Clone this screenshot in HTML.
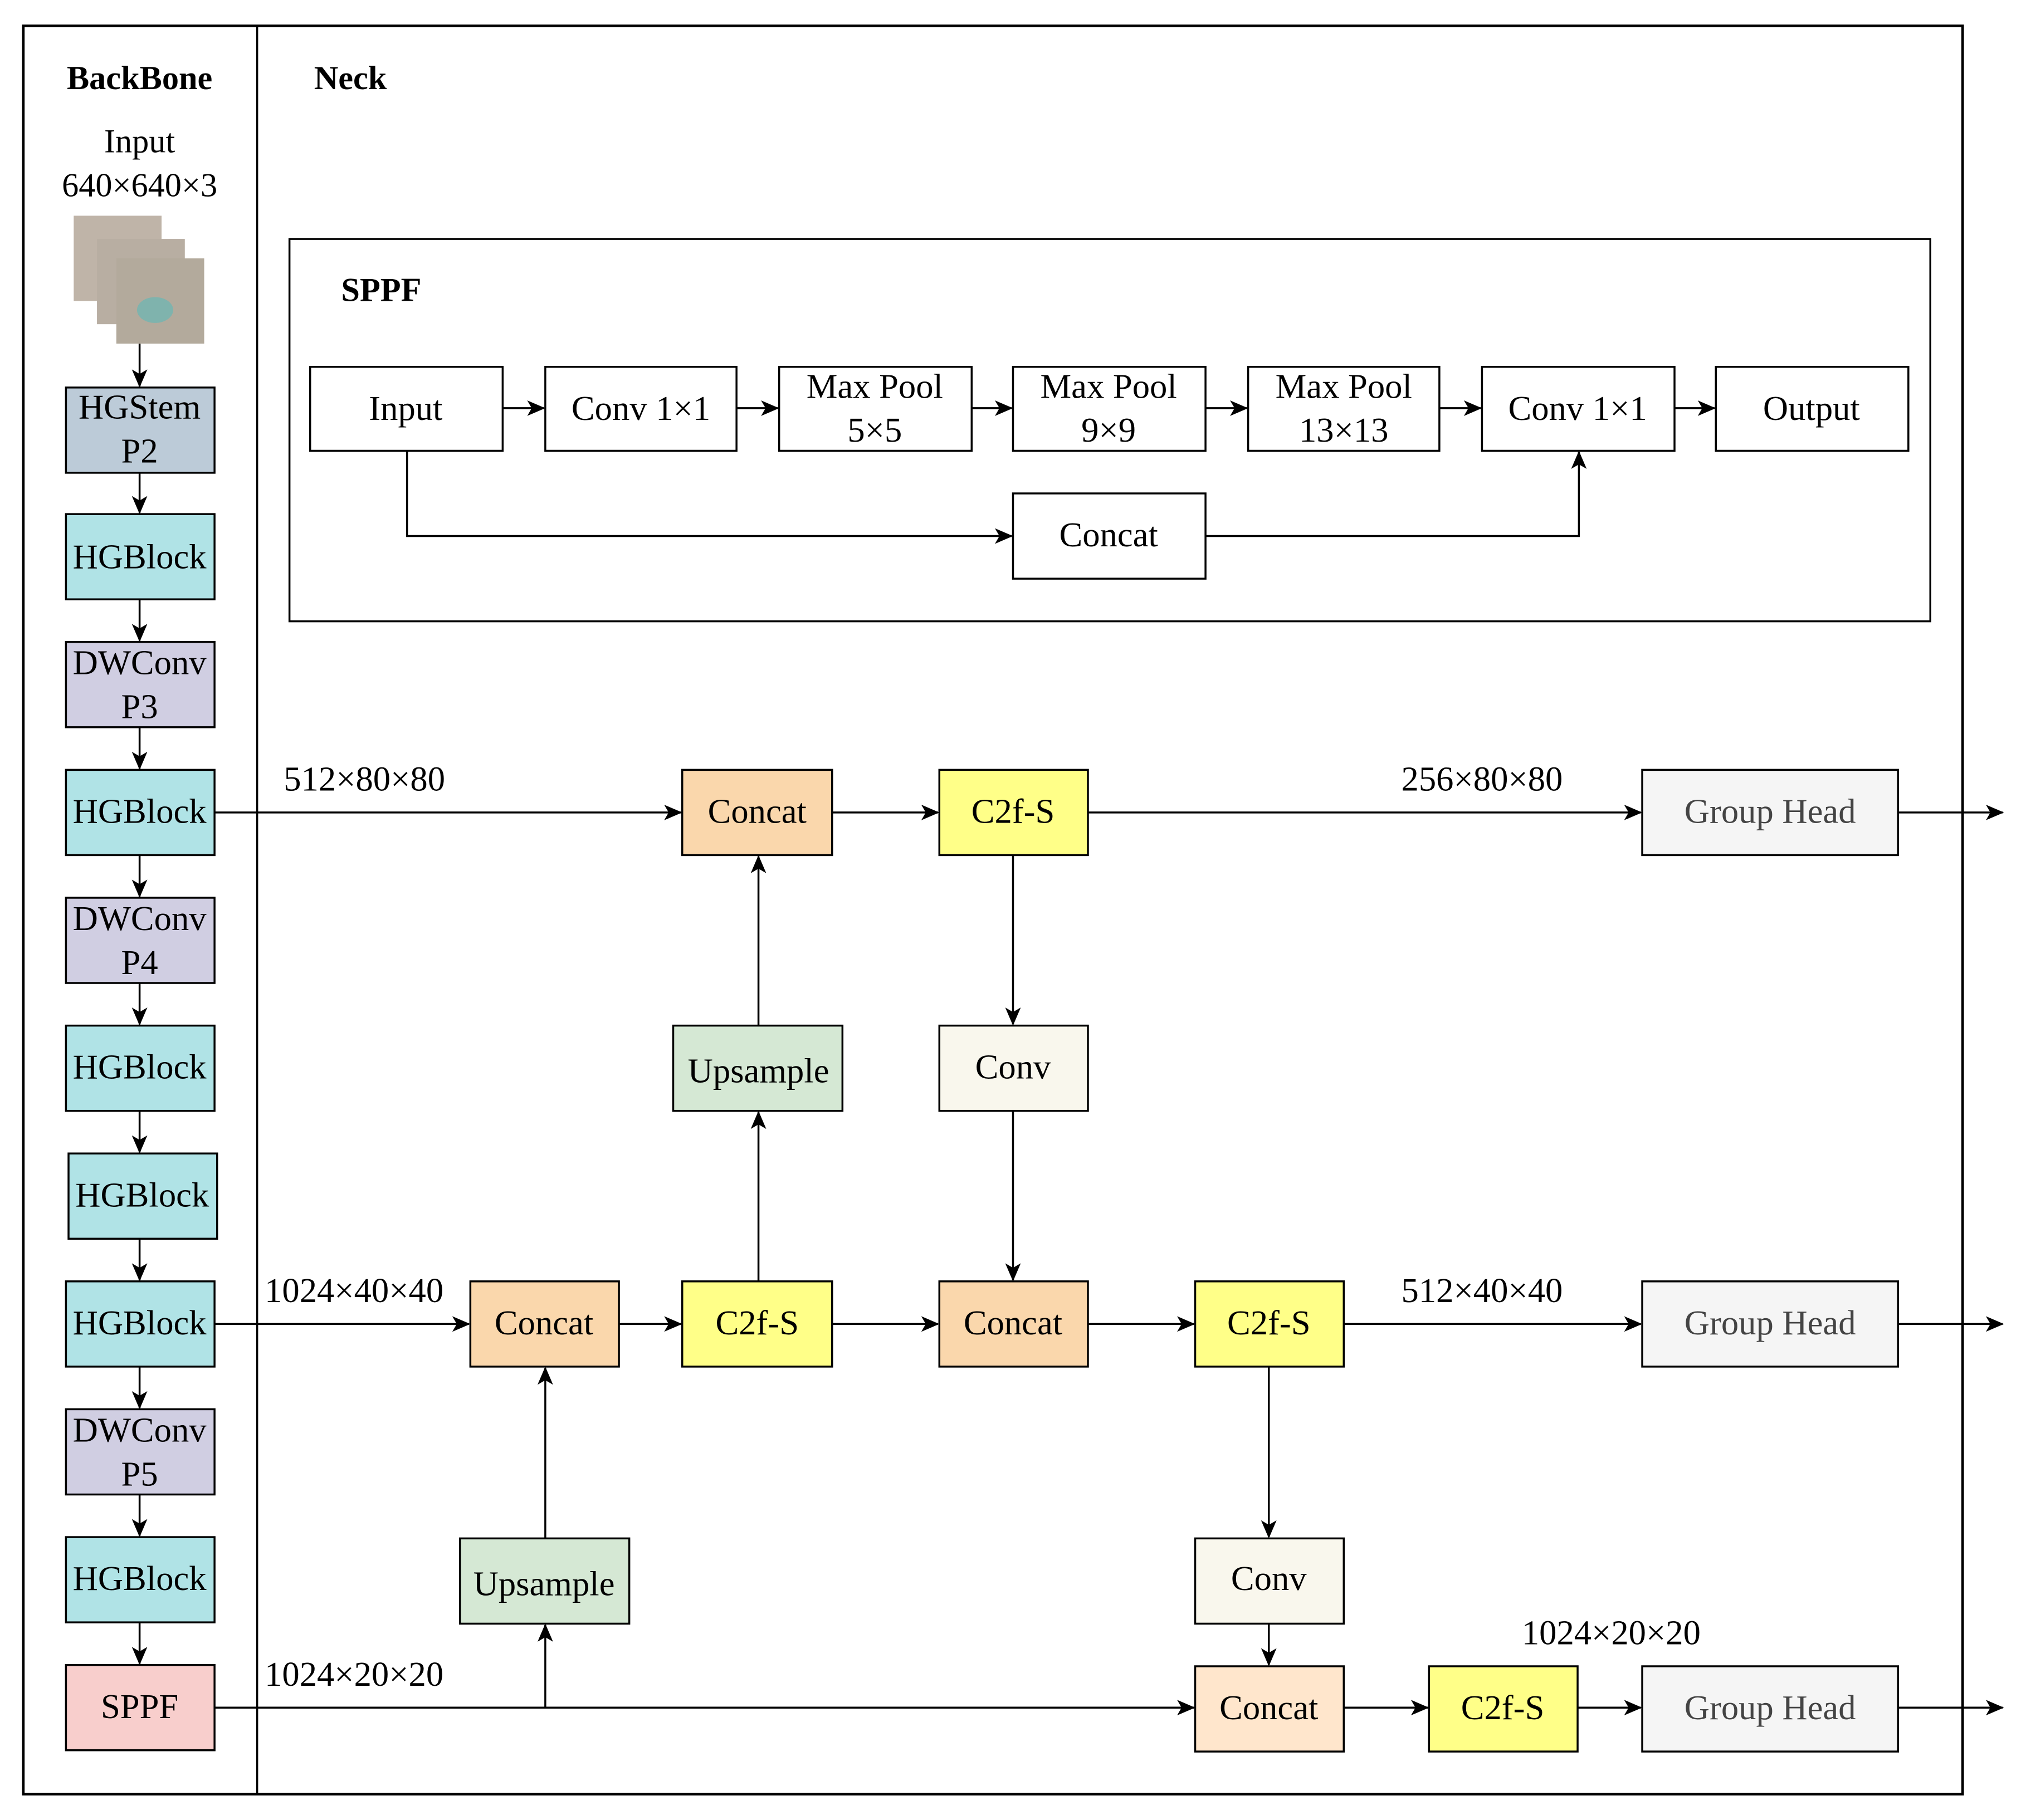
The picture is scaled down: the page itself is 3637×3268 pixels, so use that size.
<!DOCTYPE html>
<html><head><meta charset="utf-8"><style>html,body{margin:0;padding:0;background:#fff}svg{display:block}text{font-family:"Liberation Serif",serif}</style></head>
<body>
<svg width="3637" height="3268" viewBox="0 0 1568 1409" xmlns="http://www.w3.org/2000/svg" style="font-family:'Liberation Serif',serif">
<defs>
<marker id="a" markerWidth="14" markerHeight="12" refX="13" refY="6" orient="auto" markerUnits="userSpaceOnUse">
<path d="M0,0 L14,6 L0,12 L3.5,6 Z" fill="#000"/></marker>
</defs>
<rect width="1568" height="1409" fill="#fff"/>
<rect x="18" y="20" width="1501" height="1369" fill="none" stroke="#000" stroke-width="2"/>
<line x1="199" y1="20" x2="199" y2="1389" stroke="#000" stroke-width="1.5"/>
<g font-weight="bold" font-size="26"><text x="108" y="69" text-anchor="middle">BackBone</text><text x="243" y="69">Neck</text></g>
<g font-size="26" text-anchor="middle"><text x="108" y="118">Input</text><text x="108" y="152">640×640×3</text></g>
<rect x="57" y="167" width="68" height="66" fill="#bfb4a8"/>
<rect x="75" y="185" width="68" height="66" fill="#b8aea2"/>
<rect x="90" y="200" width="68" height="66" fill="#b3aa9c"/>
<ellipse cx="120" cy="240" rx="14" ry="10" fill="#7fb3ad"/>
<g stroke="#000" stroke-width="1.5" fill="none" marker-end="url(#a)">
<line x1="108" y1="266" x2="108" y2="299"/>
<line x1="108" y1="366" x2="108" y2="397"/>
<line x1="108" y1="464" x2="108" y2="496"/>
<line x1="108" y1="563" x2="108" y2="595"/>
<line x1="108" y1="662" x2="108" y2="694"/>
<line x1="108" y1="761" x2="108" y2="793"/>
<line x1="108" y1="860" x2="108" y2="892"/>
<line x1="108" y1="959" x2="108" y2="991"/>
<line x1="108" y1="1058" x2="108" y2="1090"/>
<line x1="108" y1="1157" x2="108" y2="1189"/>
<line x1="108" y1="1256" x2="108" y2="1288"/>
<line x1="389" y1="316" x2="421" y2="316"/>
<line x1="570" y1="316" x2="602" y2="316"/>
<line x1="752" y1="316" x2="783" y2="316"/>
<line x1="933" y1="316" x2="965" y2="316"/>
<line x1="1114" y1="316" x2="1146" y2="316"/>
<line x1="1296" y1="316" x2="1327" y2="316"/>
<polyline points="315,349 315,415 783,415"/>
<polyline points="933,415 1222,415 1222,350"/>
<line x1="166" y1="629" x2="527" y2="629"/>
<line x1="644" y1="629" x2="726" y2="629"/>
<line x1="842" y1="629" x2="1270" y2="629"/>
<line x1="1469" y1="629" x2="1550" y2="629"/>
<line x1="587" y1="794" x2="587" y2="663"/>
<line x1="587" y1="992" x2="587" y2="861"/>
<line x1="784" y1="662" x2="784" y2="793"/>
<line x1="784" y1="860" x2="784" y2="991"/>
<line x1="166" y1="1025" x2="363" y2="1025"/>
<line x1="479" y1="1025" x2="527" y2="1025"/>
<line x1="644" y1="1025" x2="726" y2="1025"/>
<line x1="842" y1="1025" x2="924" y2="1025"/>
<line x1="1040" y1="1025" x2="1270" y2="1025"/>
<line x1="1469" y1="1025" x2="1550" y2="1025"/>
<line x1="982" y1="1058" x2="982" y2="1190"/>
<line x1="982" y1="1257" x2="982" y2="1289"/>
<line x1="422" y1="1191" x2="422" y2="1059"/>
<line x1="422" y1="1322" x2="422" y2="1258"/>
<line x1="166" y1="1322" x2="924" y2="1322"/>
<line x1="1040" y1="1322" x2="1105" y2="1322"/>
<line x1="1221" y1="1322" x2="1270" y2="1322"/>
<line x1="1469" y1="1322" x2="1550" y2="1322"/>
</g>
<rect x="224" y="185" width="1270" height="296" fill="none" stroke="#000" stroke-width="1.5"/>
<text x="264" y="233" font-weight="bold" font-size="26">SPPF</text>
<g stroke="#000" stroke-width="1.5" fill="#fff">
<rect x="240" y="284" width="149" height="65"/>
<rect x="422" y="284" width="148" height="65"/>
<rect x="603" y="284" width="149" height="65"/>
<rect x="784" y="284" width="149" height="65"/>
<rect x="966" y="284" width="148" height="65"/>
<rect x="1147" y="284" width="149" height="65"/>
<rect x="1328" y="284" width="149" height="65"/>
<rect x="784" y="382" width="149" height="66"/>
</g>
<g font-size="27" text-anchor="middle">
<text x="314" y="325">Input</text>
<text x="496" y="325">Conv 1×1</text>
<text x="677" y="308">Max Pool</text><text x="677" y="342">5×5</text>
<text x="858" y="308">Max Pool</text><text x="858" y="342">9×9</text>
<text x="1040" y="308">Max Pool</text><text x="1040" y="342">13×13</text>
<text x="1221" y="325">Conv 1×1</text>
<text x="1402" y="325">Output</text>
<text x="858" y="423">Concat</text>
</g>
<g stroke="#000" stroke-width="1.5">
<rect x="51" y="300" width="115" height="66" fill="#bccbd8"/>
<rect x="51" y="398" width="115" height="66" fill="#b0e3e6"/>
<rect x="51" y="497" width="115" height="66" fill="#d0cee2"/>
<rect x="51" y="596" width="115" height="66" fill="#b0e3e6"/>
<rect x="51" y="695" width="115" height="66" fill="#d0cee2"/>
<rect x="51" y="794" width="115" height="66" fill="#b0e3e6"/>
<rect x="53" y="893" width="115" height="66" fill="#b0e3e6"/>
<rect x="51" y="992" width="115" height="66" fill="#b0e3e6"/>
<rect x="51" y="1091" width="115" height="66" fill="#d0cee2"/>
<rect x="51" y="1190" width="115" height="66" fill="#b0e3e6"/>
<rect x="51" y="1289" width="115" height="66" fill="#f8cecc"/>
</g>
<g font-size="27" text-anchor="middle">
<text x="108" y="324">HGStem</text><text x="108" y="358">P2</text>
<text x="108" y="440">HGBlock</text>
<text x="108" y="522">DWConv</text><text x="108" y="556">P3</text>
<text x="108" y="637">HGBlock</text>
<text x="108" y="720">DWConv</text><text x="108" y="754">P4</text>
<text x="108" y="835">HGBlock</text>
<text x="110" y="934">HGBlock</text>
<text x="108" y="1033">HGBlock</text>
<text x="108" y="1116">DWConv</text><text x="108" y="1150">P5</text>
<text x="108" y="1231">HGBlock</text>
<text x="108" y="1330">SPPF</text>
</g>
<g stroke="#000" stroke-width="1.5">
<rect x="528" y="596" width="116" height="66" fill="#fad7ac"/>
<rect x="727" y="596" width="115" height="66" fill="#ffff88"/>
<rect x="1271" y="596" width="198" height="66" fill="#f5f5f5"/>
<rect x="521" y="794" width="131" height="66" fill="#d5e8d4"/>
<rect x="727" y="794" width="115" height="66" fill="#f9f7ed"/>
<rect x="364" y="992" width="115" height="66" fill="#fad7ac"/>
<rect x="528" y="992" width="116" height="66" fill="#ffff88"/>
<rect x="727" y="992" width="115" height="66" fill="#fad7ac"/>
<rect x="925" y="992" width="115" height="66" fill="#ffff88"/>
<rect x="1271" y="992" width="198" height="66" fill="#f5f5f5"/>
<rect x="356" y="1191" width="131" height="66" fill="#d5e8d4"/>
<rect x="925" y="1191" width="115" height="66" fill="#f9f7ed"/>
<rect x="925" y="1290" width="115" height="66" fill="#ffe6cc"/>
<rect x="1106" y="1290" width="115" height="66" fill="#ffff88"/>
<rect x="1271" y="1290" width="198" height="66" fill="#f5f5f5"/>
</g>
<g font-size="27" text-anchor="middle">
<text x="586" y="637">Concat</text>
<text x="784" y="637">C2f-S</text>
<text x="1370" y="637" fill="#444">Group Head</text>
<text x="587" y="838">Upsample</text>
<text x="784" y="835">Conv</text>
<text x="421" y="1033">Concat</text>
<text x="586" y="1033">C2f-S</text>
<text x="784" y="1033">Concat</text>
<text x="982" y="1033">C2f-S</text>
<text x="1370" y="1033" fill="#444">Group Head</text>
<text x="421" y="1235">Upsample</text>
<text x="982" y="1231">Conv</text>
<text x="982" y="1331">Concat</text>
<text x="1163" y="1331">C2f-S</text>
<text x="1370" y="1331" fill="#444">Group Head</text>
<text x="282" y="612">512×80×80</text>
<text x="1147" y="612">256×80×80</text>
<text x="274" y="1008">1024×40×40</text>
<text x="1147" y="1008">512×40×40</text>
<text x="274" y="1305">1024×20×20</text>
<text x="1247" y="1273">1024×20×20</text>
</g>
</svg>
</body></html>
